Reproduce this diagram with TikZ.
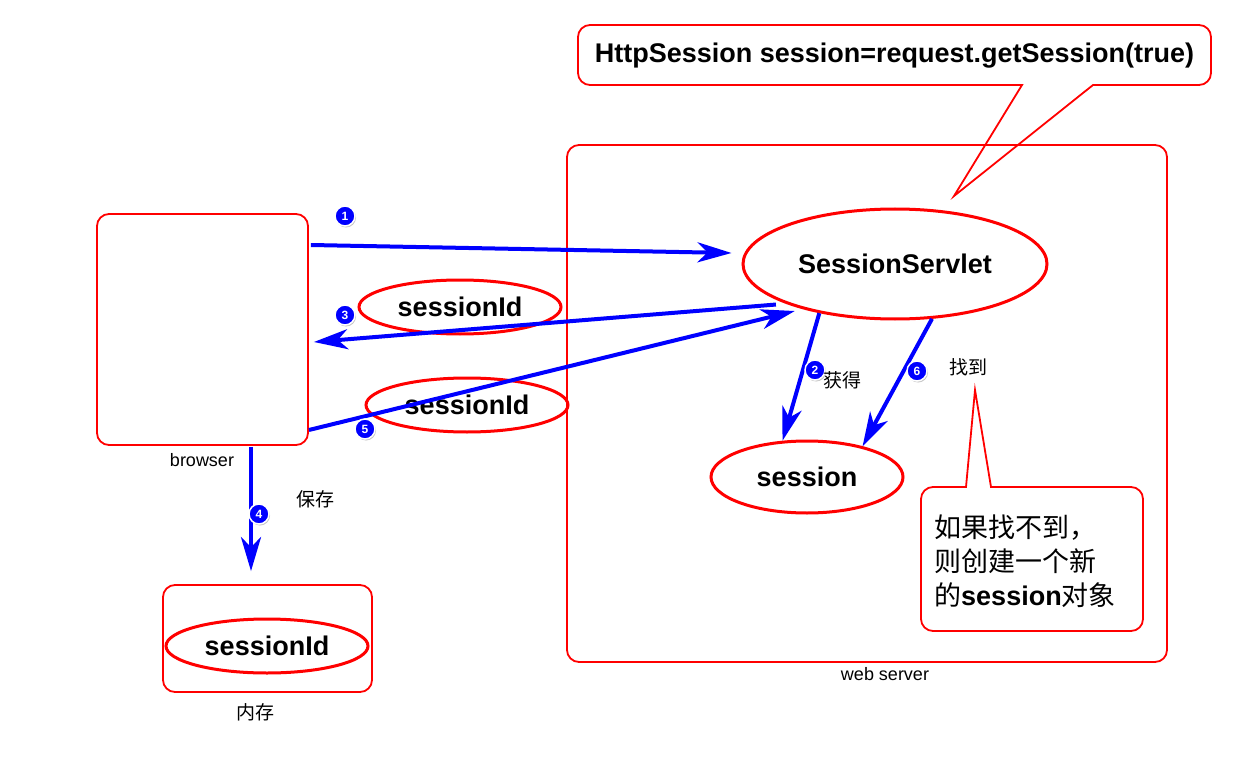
\documentclass[tikz,border=0pt]{standalone}
\usepackage{fontspec}
\setmainfont{Liberation Sans}
\newfontfamily\cjk{Noto Sans CJK SC}
\usetikzlibrary{arrows.meta,shapes.geometric,shadows,calc}
\definecolor{pureblue}{RGB}{0,0,255}
\begin{document}
\begin{tikzpicture}[x=1pt,y=-1pt,
 redbox/.style={draw=red, line width=1.8pt, rounded corners=12pt, inner sep=0pt},
 redline/.style={draw=red, line width=1.8pt},
 oval/.style={ellipse, draw=red, line width=3pt, inner sep=0pt, font=\bfseries\fontsize{27}{30}\selectfont},
 arr/.style={draw=pureblue, line width=4pt, -{Stealth[length=34pt,width=20pt,inset=10pt]}},
 num/.style={circle, fill=pureblue, draw=white, line width=1.5pt, minimum size=20pt, inner sep=0pt, text=white, font=\bfseries\fontsize{12}{12}\selectfont, drop shadow={opacity=0.45, shadow xshift=1pt, shadow yshift=-1.5pt}},
 lbl/.style={font=\fontsize{18}{20}\selectfont},
 cjklbl/.style={font=\cjk\fontsize{19}{20}\selectfont},
]
\useasboundingbox (0,0) rectangle (1233,767);
\fill[white] (0,0) rectangle (1233,767);

% boxes
\node[redbox, minimum width=211pt, minimum height=231pt] (browser) at (202.5,329.5) {};
\node[redbox, minimum width=600pt, minimum height=517pt] (server) at (867,403.5) {};
\node[redbox, minimum width=209pt, minimum height=107pt] (mem) at (267.5,638.5) {};

% top callout
\draw[redline] (954,196) -- (1093,85) [rounded corners=12pt] -- (1211,85) -- (1211,25) -- (578,25) -- (578,85) [sharp corners] -- (1022,85) -- cycle;
\node[font=\bfseries\fontsize{27}{30}\selectfont] (code) at (894.5,56) {HttpSession session=request.getSession(true)};

% bottom callout
\draw[redline] (975,390) -- (991,487) [rounded corners=12pt] -- (1143,487) -- (1143,631) -- (921,631) -- (921,487) [sharp corners] -- (966,487) -- cycle;
\node[anchor=west, align=left, font=\fontsize{27}{34}\selectfont, inner sep=0pt] (note) at (934,561) {{\cjk 如果找不到，}\\{\cjk 则创建一个新}\\{\cjk 的}\textbf{session}{\cjk 对象}};

% ellipses
\node[oval, minimum width=304pt, minimum height=110pt] (ss) at (895,264) {SessionServlet};
\node[oval, minimum width=202pt, minimum height=54pt] (sid1) at (460,307) {sessionId};
\node[oval, minimum width=202pt, minimum height=54pt] (sid2) at (467,405) {sessionId};
\node[oval, minimum width=192pt, minimum height=72pt] (sess) at (807,477) {session};
\node[oval, minimum width=202pt, minimum height=54pt] (sid3) at (267,646) {sessionId};

% arrows
\draw[arr] ($(browser.east)+(2,-84.5)$) -- ($(ss.west)+(-10,-11)$);
\draw[arr, shorten <=10pt] (ss.200) -- ($(browser.east)+(5,12.5)$);
\draw[arr, shorten >=8pt] ($(browser.east)+(0,100.5)$) -- (ss.206);
\draw[arr] (ss.213) -- (sess.124);
\draw[arr] (ss.304) -- (sess.29);
\draw[arr] ($(browser.south)+(48.5,1)$) -- ($(mem.north)+(-16.5,-13)$);

% numbers
\node[num] (n1) at (345,216) {1};
\node[num] (n3) at (345,315) {3};
\node[num] (n5) at (365,429) {5};
\node[num] (n2) at (815,370) {2};
\node[num] (n6) at (917,371) {6};
\node[num] (n4) at (259,514) {4};

% labels
\node[lbl] (lb) at (202,460) {browser};
\node[lbl] (lw) at (885,674) {web server};
\node[cjklbl] (lm) at (255,712) {内存};
\node[cjklbl] (l4) at (315,499) {保存};
\node[cjklbl] (l2) at (842,380) {获得};
\node[cjklbl] (l6) at (968,367) {找到};
\end{tikzpicture}
\end{document}
